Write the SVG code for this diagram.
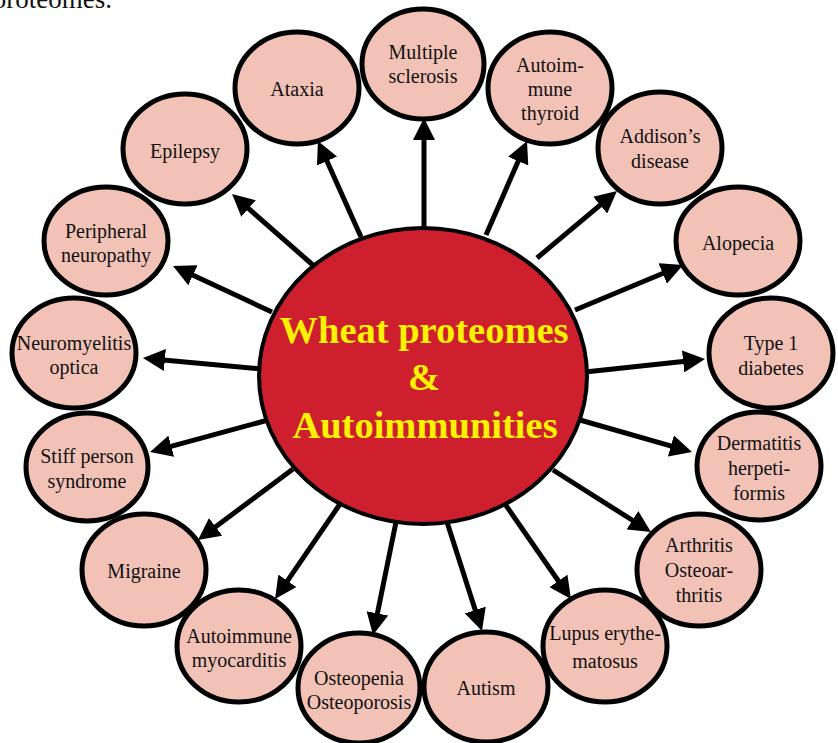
<svg xmlns="http://www.w3.org/2000/svg" width="838" height="743" viewBox="0 0 838 743">
<style>
.node ellipse{fill:#F2C2B6;stroke:#000;stroke-width:5}
.node text{font-family:"Liberation Serif","Times New Roman",serif;font-size:20px;fill:#111;text-anchor:middle}
.conn line{stroke:#000;stroke-width:5;fill:none}
.title{font-family:"Liberation Serif","Times New Roman",serif;font-weight:bold;font-size:38.5px;fill:#FFF200;text-anchor:middle}
</style>
<defs>
<marker id="ah" markerUnits="userSpaceOnUse" markerWidth="22" markerHeight="22" refX="7" refY="11" orient="auto">
<path d="M0,0 L22,11 L0,22 z" fill="#000"/>
</marker>
</defs>
<rect width="838" height="743" fill="#fff"/>
<text x="112" y="8" font-family="Liberation Serif, serif" font-size="27" text-anchor="end" fill="#111">proteomes.</text>
<g id="connectors" class="conn">
<line x1="361" y1="237" x2="324.1" y2="154.7" marker-end="url(#ah)"/>
<line x1="424" y1="232" x2="424" y2="133" marker-end="url(#ah)"/>
<line x1="486" y1="235" x2="521" y2="154.7" marker-end="url(#ah)"/>
<line x1="537" y1="258" x2="605.5" y2="200.6" marker-end="url(#ah)"/>
<line x1="575" y1="310" x2="669.2" y2="270.8" marker-end="url(#ah)"/>
<line x1="585" y1="372" x2="690.1" y2="360.7" marker-end="url(#ah)"/>
<line x1="580" y1="420" x2="677.6" y2="447.9" marker-end="url(#ah)"/>
<line x1="553" y1="470" x2="638.3" y2="524" marker-end="url(#ah)"/>
<line x1="505" y1="504" x2="562.4" y2="586.7" marker-end="url(#ah)"/>
<line x1="447" y1="522" x2="477.4" y2="616.7" marker-end="url(#ah)"/>
<line x1="396" y1="522" x2="376" y2="620.3" marker-end="url(#ah)"/>
<line x1="340" y1="504" x2="283.5" y2="586.6" marker-end="url(#ah)"/>
<line x1="293" y1="469" x2="210" y2="531" marker-end="url(#ah)"/>
<line x1="268" y1="420" x2="164.5" y2="448.1" marker-end="url(#ah)"/>
<line x1="262" y1="369" x2="157.9" y2="359.4" marker-end="url(#ah)"/>
<line x1="272" y1="312" x2="186.6" y2="272.3" marker-end="url(#ah)"/>
<line x1="314" y1="266" x2="243.3" y2="203.9" marker-end="url(#ah)"/>
</g>
<g id="center">
<ellipse cx="423" cy="376" rx="164" ry="148" fill="#CE1F2F" stroke="#000" stroke-width="4"/>
<text class="title" x="424" y="343">Wheat proteomes</text>
<text class="title" x="424" y="390">&amp;</text>
<text class="title" x="425" y="438">Autoimmunities</text>
</g>
<g id="n-ms" class="node"><ellipse cx="423" cy="64" rx="61" ry="55"/><text x="423" y="59">Multiple</text><text x="423" y="83">sclerosis</text></g>
<g id="n-ataxia" class="node"><ellipse cx="297" cy="88" rx="62" ry="56"/><text x="297" y="96">Ataxia</text></g>
<g id="n-epilepsy" class="node"><ellipse cx="185" cy="149" rx="62" ry="55"/><text x="185" y="158">Epilepsy</text></g>
<g id="n-peripheral" class="node"><ellipse cx="106" cy="241" rx="62" ry="54"/><text x="106" y="238">Peripheral</text><text x="106" y="262">neuropathy</text></g>
<g id="n-neuromyelitis" class="node"><ellipse cx="74" cy="353" rx="62" ry="55"/><text x="74" y="350">Neuromyelitis</text><text x="74" y="374">optica</text></g>
<g id="n-stiff" class="node"><ellipse cx="87" cy="467" rx="61" ry="54"/><text x="87" y="463">Stiff person</text><text x="87" y="488">syndrome</text></g>
<g id="n-migraine" class="node"><ellipse cx="144" cy="570" rx="62" ry="56"/><text x="144" y="578">Migraine</text></g>
<g id="n-myocarditis" class="node"><ellipse cx="239" cy="646" rx="62" ry="56"/><text x="239" y="643">Autoimmune</text><text x="239" y="667">myocarditis</text></g>
<g id="n-osteo" class="node"><ellipse cx="359" cy="688" rx="61" ry="55"/><text x="359" y="685">Osteopenia</text><text x="359" y="709">Osteoporosis</text></g>
<g id="n-autism" class="node"><ellipse cx="486" cy="687" rx="62" ry="55"/><text x="486" y="695">Autism</text></g>
<g id="n-lupus" class="node"><ellipse cx="605" cy="646" rx="62" ry="56"/><text x="605" y="640">Lupus erythe-</text><text x="605" y="668">matosus</text></g>
<g id="n-arthritis" class="node"><ellipse cx="699" cy="570" rx="62" ry="56"/><text x="699" y="552">Arthritis</text><text x="699" y="577">Osteoar-</text><text x="699" y="602">thritis</text></g>
<g id="n-dermatitis" class="node"><ellipse cx="759" cy="466" rx="62" ry="54"/><text x="759" y="450">Dermatitis</text><text x="759" y="475">herpeti-</text><text x="759" y="500">formis</text></g>
<g id="n-type1" class="node"><ellipse cx="771" cy="353" rx="62" ry="55"/><text x="771" y="350">Type 1</text><text x="771" y="375">diabetes</text></g>
<g id="n-alopecia" class="node"><ellipse cx="738" cy="241" rx="62" ry="54"/><text x="738" y="250">Alopecia</text></g>
<g id="n-addison" class="node"><ellipse cx="660" cy="148" rx="62" ry="56"/><text x="660" y="143">Addison’s</text><text x="660" y="168">disease</text></g>
<g id="n-thyroid" class="node"><ellipse cx="550" cy="88" rx="62" ry="56"/><text x="550" y="72">Autoim-</text><text x="550" y="96">mune</text><text x="550" y="120">thyroid</text></g>
</svg>
